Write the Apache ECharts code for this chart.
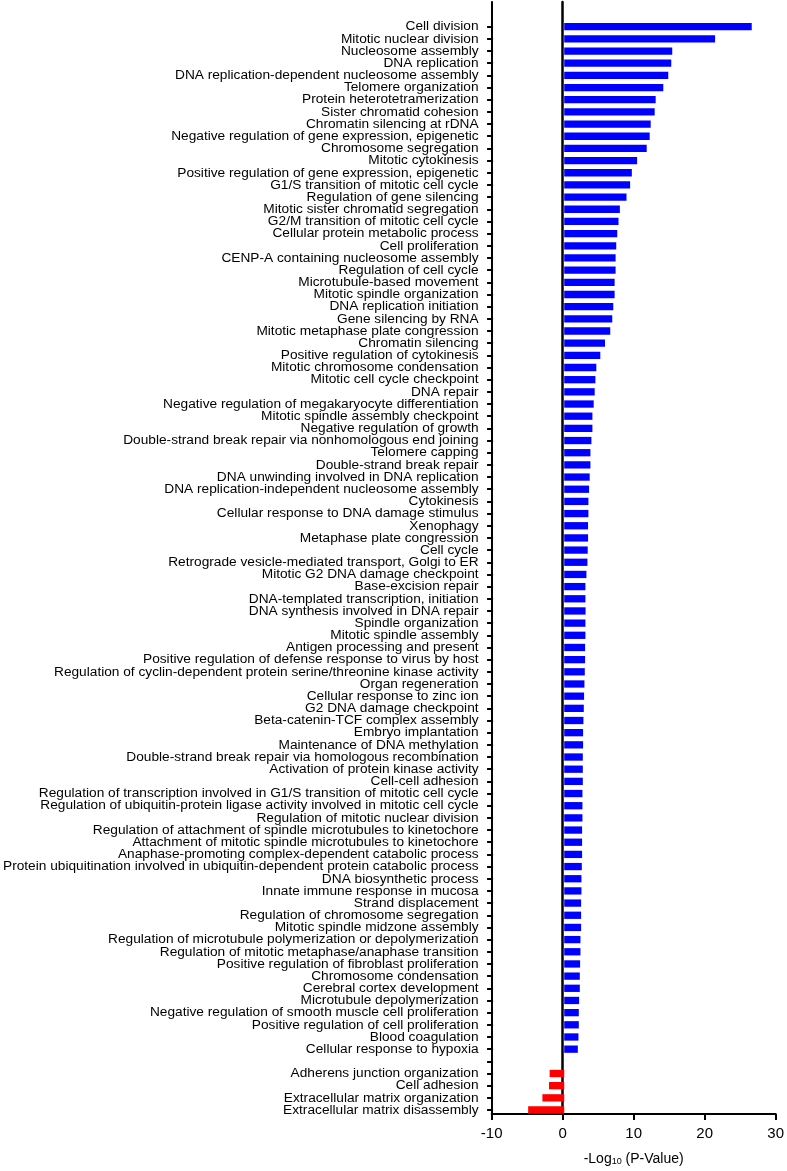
<!DOCTYPE html>
<html>
<head>
<meta charset="utf-8">
<script src="https://cdn.jsdelivr.net/npm/echarts@6/dist/echarts.min.js"></script>
<style>
html,body{margin:0;padding:0;background:#fff;}
#chart{width:787px;height:1171px;}
</style>
</head>
<body>
<div id="chart"></div>
<script>
const categories = [
"Cell division","Mitotic nuclear division","Nucleosome assembly","DNA replication",
"DNA replication-dependent nucleosome assembly","Telomere organization","Protein heterotetramerization",
"Sister chromatid cohesion","Chromatin silencing at rDNA","Negative regulation of gene expression, epigenetic",
"Chromosome segregation","Mitotic cytokinesis","Positive regulation of gene expression, epigenetic",
"G1/S transition of mitotic cell cycle","Regulation of gene silencing","Mitotic sister chromatid segregation",
"G2/M transition of mitotic cell cycle","Cellular protein metabolic process","Cell proliferation",
"CENP-A containing nucleosome assembly","Regulation of cell cycle","Microtubule-based movement",
"Mitotic spindle organization","DNA replication initiation","Gene silencing by RNA",
"Mitotic metaphase plate congression","Chromatin silencing","Positive regulation of cytokinesis",
"Mitotic chromosome condensation","Mitotic cell cycle checkpoint","DNA repair",
"Negative regulation of megakaryocyte differentiation","Mitotic spindle assembly checkpoint",
"Negative regulation of growth","Double-strand break repair via nonhomologous end joining",
"Telomere capping","Double-strand break repair","DNA unwinding involved in DNA replication",
"DNA replication-independent nucleosome assembly","Cytokinesis","Cellular response to DNA damage stimulus",
"Xenophagy","Metaphase plate congression","Cell cycle","Retrograde vesicle-mediated transport, Golgi to ER",
"Mitotic G2 DNA damage checkpoint","Base-excision repair","DNA-templated transcription, initiation",
"DNA synthesis involved in DNA repair","Spindle organization","Mitotic spindle assembly",
"Antigen processing and present","Positive regulation of defense response to virus by host",
"Regulation of cyclin-dependent protein serine/threonine kinase activity","Organ regeneration",
"Cellular response to zinc ion","G2 DNA damage checkpoint","Beta-catenin-TCF complex assembly",
"Embryo implantation","Maintenance of DNA methylation","Double-strand break repair via homologous recombination",
"Activation of protein kinase activity","Cell-cell adhesion",
"Regulation of transcription involved in G1/S transition of mitotic cell cycle",
"Regulation of ubiquitin-protein ligase activity involved in mitotic cell cycle",
"Regulation of mitotic nuclear division","Regulation of attachment of spindle microtubules to kinetochore",
"Attachment of mitotic spindle microtubules to kinetochore",
"Anaphase-promoting complex-dependent catabolic process",
"Protein ubiquitination involved in ubiquitin-dependent protein catabolic process",
"DNA biosynthetic process","Innate immune response in mucosa","Strand displacement",
"Regulation of chromosome segregation","Mitotic spindle midzone assembly",
"Regulation of microtubule polymerization or depolymerization",
"Regulation of mitotic metaphase/anaphase transition","Positive regulation of fibroblast proliferation",
"Chromosome condensation","Cerebral cortex development","Microtubule depolymerization",
"Negative regulation of smooth muscle cell proliferation","Positive regulation of cell proliferation",
"Blood coagulation","Cellular response to hypoxia",
"",
"Adherens junction organization","Cell adhesion","Extracellular matrix organization",
"Extracellular matrix disassembly"
];

const values = [
26.35,21.2,15.18,15.04,14.62,13.92,12.85,12.71,12.15,12.01,
11.59,10.24,9.50,9.26,8.75,7.82,7.63,7.45,7.31,7.22,
7.22,7.08,7.08,6.89,6.75,6.47,5.73,5.07,4.51,4.38,
4.28,4.14,3.96,3.96,3.82,3.68,3.68,3.58,3.49,3.40,
3.40,3.35,3.35,3.30,3.26,3.12,2.98,2.98,3.00,2.98,
2.98,2.93,2.93,2.89,2.84,2.79,2.75,2.70,2.65,2.65,
2.61,2.61,2.61,2.56,2.56,2.56,2.51,2.51,2.51,2.47,
2.42,2.42,2.37,2.37,2.37,2.28,2.28,2.23,2.19,2.19,
2.09,2.05,2.05,2.00,1.91,
null,
-2.05,-2.14,-3.07,-5.07
];

const xTicks = { min: -10, max: 30, interval: 10 };

const FONT = "'Liberation Sans', Arial, Helvetica, sans-serif";
const chart = echarts.init(document.getElementById('chart'), null, {renderer:'canvas'});

const option = {
  animation: false,
  backgroundColor: '#fff',
  grid: [
    { left: 491.7, right: 9.3, top: 2, bottom: 53.3 },
    { left: 491.7, right: 9.3, top: 20.6, height: 1095.5 }
  ],
  xAxis: [
    {
      gridIndex: 0, type: 'value', min: xTicks.min, max: xTicks.max, interval: xTicks.interval,
      axisLine: { show: true, onZero: false, lineStyle: { color: '#000', width: 2 } },
      axisTick: { show: true, length: 6, lineStyle: { color: '#000', width: 2 } },
      axisLabel: { color: '#000', fontSize: 15, fontFamily: FONT, margin: 12 },
      splitLine: { show: false },
      name: '-Log{sub|10} (P-Value)',
      nameLocation: 'middle',
      nameGap: 38,
      nameTextStyle: {
        color: '#000', fontSize: 14, fontFamily: FONT,
        rich: { sub: { fontSize: 9, fontFamily: FONT, color: '#000', verticalAlign: 'bottom', padding: [5,0,0,0] } }
      }
    },
    {
      gridIndex: 1, type: 'value', min: xTicks.min, max: xTicks.max, interval: xTicks.interval,
      show: false
    }
  ],
  yAxis: [
    {
      gridIndex: 0, type: 'value', min: 0, max: 1, position: 'left',
      axisLine: { show: true, onZero: false, lineStyle: { color: '#000', width: 2 } },
      axisTick: { show: false }, axisLabel: { show: false }, splitLine: { show: false }
    },
    {
      gridIndex: 0, type: 'value', min: 0, max: 1, position: 'left',
      axisLine: { show: true, onZero: true, lineStyle: { color: '#000', width: 2.5 } },
      axisTick: { show: false }, axisLabel: { show: false }, splitLine: { show: false }
    },
    {
      gridIndex: 1, type: 'category', data: categories, inverse: true, position: 'left',
      axisLine: { show: false, onZero: false },
      axisTick: { show: true, alignWithLabel: true, length: 6, lineStyle: { color: '#000', width: 2 } },
      axisLabel: { color: '#000', fontSize: 13.7, fontFamily: FONT, margin: 14.5, interval: 0 },
      splitLine: { show: false }
    }
  ],
  series: [
    {
      type: 'bar',
      xAxisIndex: 1, yAxisIndex: 2,
      data: values,
      barWidth: 7.3,
      itemStyle: {
        color: function (p) { return p.value < 0 ? '#FF0000' : '#0000FF'; }
      }
    }
  ]
};
chart.setOption(option);
</script>
</body>
</html>
